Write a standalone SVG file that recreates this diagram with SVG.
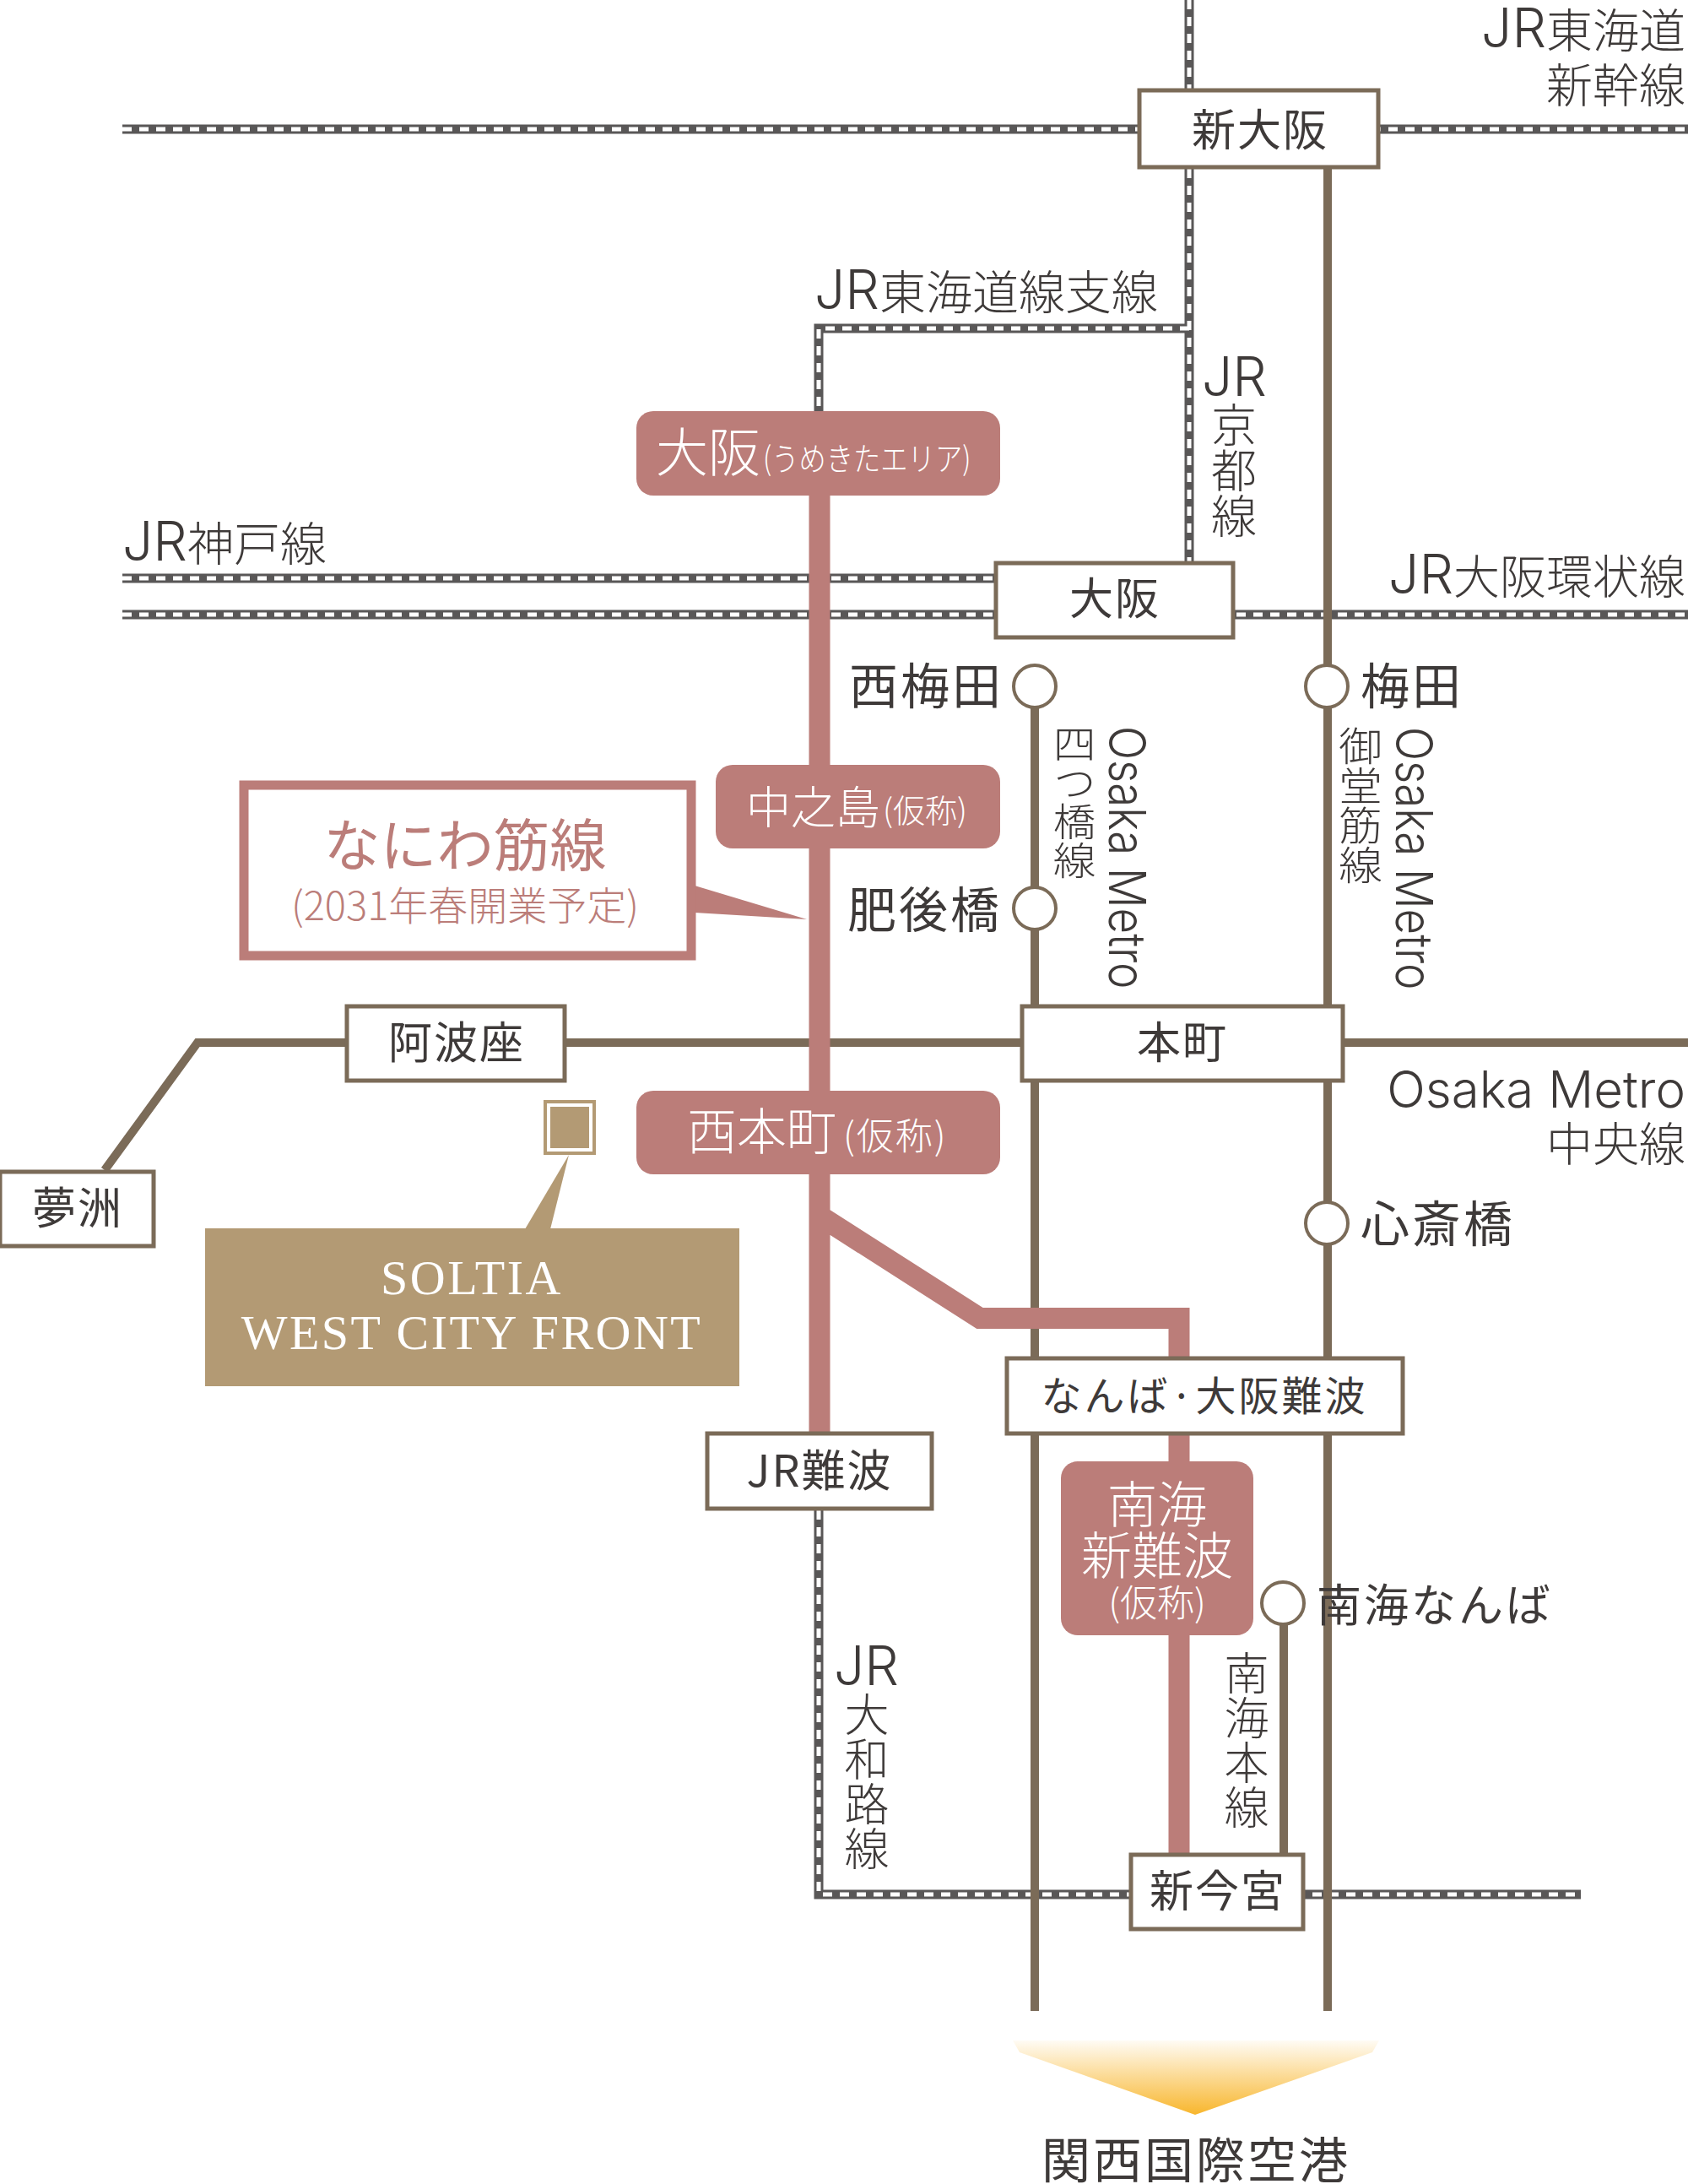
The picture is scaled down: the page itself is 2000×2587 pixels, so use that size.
<svg xmlns="http://www.w3.org/2000/svg" width="2000" height="2587" viewBox="0 0 2000 2587">
<defs>
<linearGradient id="airport" x1="0" y1="0" x2="0" y2="1"><stop offset="0" stop-color="#f8b62d" stop-opacity="0.05"/><stop offset="1" stop-color="#f8b62d"/></linearGradient>
</defs>
<style>
text{font-family:"Noto Sans CJK JP","Noto Sans",sans-serif;fill:#3e3a39}
.l{font-weight:300;font-size:55px}
.jr{font-family:Inter,"Noto Sans",sans-serif;font-size:64px;font-weight:300}
.v{writing-mode:vertical-rl;font-weight:300;font-size:52px}
.om{font-family:Inter,"Noto Sans",sans-serif;font-size:60px;font-weight:300}
.st{font-size:52px;text-anchor:middle;letter-spacing:2px}
.big{font-size:58px;letter-spacing:3px}
.w{fill:#fff;font-weight:300}
.r{text-anchor:end}
.box{fill:#fff;stroke:#7b6b58;stroke-width:5}
.pbox{fill:#bb7d79}
.rail{fill:none;stroke:#595757;stroke-width:11}
.raild{fill:none;stroke:#fff;stroke-width:5;stroke-dasharray:11 9}
.metro{fill:none;stroke:#7b6b58;stroke-width:10}
.pink{fill:none;stroke:#bb7d79;stroke-width:25}
.circ{fill:#fff;stroke:#7b6b58;stroke-width:4}
</style>
<rect width="2000" height="2587" fill="#fff"/>
<g id="connectors">
<path class="rail" d="M145 153H2000M1409 0V665M1409 389H970V490M145 685H1180M145 728H2000M970 1789V2244H1873"/>
<path class="raild" d="M145 153H2000M1409 0V665M1409 389H970V490M145 685H1180M145 728H2000M970 1789V2244H1873"/>
<path class="metro" d="M1573 200V2382M1226 813V2382M124 1386L234 1235H2000M1521 1899V2195"/>
<path class="pink" d="M971 587V1696M971 1440L1161 1561.500H1397V2195"/>
</g>
<g id="n-shinosaka"><rect class="box" x="1350" y="107" width="283" height="91"/><text class="st" x="1493" y="173">新大阪</text></g>
<g id="n-osaka"><rect class="box" x="1180" y="667" width="281" height="88"/><text class="st" x="1321" y="728">大阪</text></g>
<g id="n-awaza"><rect class="box" x="411" y="1192" width="258" height="88"/><text class="st" x="541" y="1254">阿波座</text></g>
<g id="n-hommachi"><rect class="box" x="1211" y="1192" width="380" height="88"/><text class="st" x="1401" y="1254">本町</text></g>
<g id="n-yumeshima"><rect class="box" x="0" y="1388" width="182" height="88"/><text class="st" x="92" y="1450">夢洲</text></g>
<g id="n-namba"><rect class="box" x="1193" y="1609" width="469" height="89"/><text class="st" style="font-size:48px;letter-spacing:3px" x="1427" y="1671">なんば·大阪難波</text></g>
<g id="n-jrnamba"><rect class="box" x="838" y="1698" width="266" height="89"/><text class="st" x="971" y="1761">JR難波</text></g>
<g id="n-shinimamiya"><rect class="box" x="1340" y="2197" width="204" height="88"/><text class="st" x="1443" y="2259">新今宮</text></g>
<g id="n-p-osaka"><rect class="pbox" x="754" y="487" width="431" height="100" rx="20"/><text class="w" style="font-size:62px" x="777" y="559">大阪</text><text class="w" style="font-size:38px" transform="translate(904 557) scale(.85 1)">(うめきたエリア)</text></g>
<g id="n-p-nakanoshima"><rect class="pbox" x="848" y="906" width="337" height="99" rx="20"/><text class="w" style="font-size:53px" x="884" y="976">中之島</text><text class="w" style="font-size:38px" x="1046" y="974">(仮称)</text></g>
<g id="n-p-nishihommachi"><rect class="pbox" x="754" y="1292" width="431" height="99" rx="20"/><text class="w" style="font-size:59px" x="814" y="1362">西本町</text><text class="w" style="font-size:44px;letter-spacing:2px" x="999" y="1362">(仮称)</text></g>
<g id="n-p-shinnamba"><rect class="pbox" x="1257" y="1731" width="228" height="206" rx="20"/><text class="w" style="font-size:59px;text-anchor:middle" x="1371" y="1804">南海</text><text class="w" style="font-size:60px;text-anchor:middle" x="1371" y="1865">新難波</text><text class="w" style="font-size:44px;text-anchor:middle" x="1371" y="1915">(仮称)</text></g>
<g id="n-nishiumeda"><circle class="circ" cx="1226" cy="813" r="25"/><text class="big" x="1006" y="834">西梅田</text></g>
<g id="n-higobashi"><circle class="circ" cx="1226" cy="1076" r="25"/><text class="big" x="1004" y="1099">肥後橋</text></g>
<g id="n-umeda"><circle class="circ" cx="1572" cy="813" r="25"/><text class="big" x="1612" y="834">梅田</text></g>
<g id="n-shinsaibashi"><circle class="circ" cx="1572" cy="1449" r="25"/><text class="big" x="1612" y="1471">心斎橋</text></g>
<g id="n-nankai"><circle class="circ" cx="1520" cy="1899" r="25"/><text class="big" style="font-size:53px" x="1560" y="1921">南海なんば</text></g>
<g id="n-callout"><path d="M823 1049L956 1089L823 1081Z" fill="#bb7d79"/><rect x="289" y="930" width="530" height="202" fill="#fff" stroke="#bb7d79" stroke-width="11"/><text style="fill:#bb7d79;font-size:67px;text-anchor:middle" x="551" y="1026">なにわ筋線</text><text style="fill:#bb7d79;font-size:47px;text-anchor:middle;font-weight:300" x="551" y="1090">(2031年春開業予定)</text></g>
<g id="n-soltia"><path d="M674 1368L622 1456H652Z" fill="#b39a74"/><rect x="646" y="1305" width="58" height="61" fill="#fff" stroke="#b39a74" stroke-width="4"/><rect x="652" y="1311" width="46" height="49" fill="#b39a74"/><rect x="243" y="1455" width="633" height="187" fill="#b39a74"/><text style="fill:#fff;font-family:'Liberation Serif',serif;font-size:58px;text-anchor:middle;letter-spacing:2.500px" x="559" y="1533">SOLTIA</text><text style="fill:#fff;font-family:'Liberation Serif',serif;font-size:58px;text-anchor:middle;letter-spacing:2.500px" x="559" y="1598">WEST CITY FRONT</text></g>
<g id="n-airport"><path d="M1200 2417H1634L1626 2431L1416 2505L1208 2431Z" fill="url(#airport)"/><text class="big" style="text-anchor:middle;font-size:58px" x="1417" y="2580">関西国際空港</text></g>
<g id="labels">
<text class="l r" x="1997" y="56"><tspan class="jr">JR</tspan>東海道</text>
<text class="l r" x="1997" y="121">新幹線</text>
<text class="l" x="965" y="366"><tspan class="jr">JR</tspan>東海道線支線</text>
<text class="jr" x="1424" y="469">JR</text>
<text class="v" x="1462" y="476" style="font-size:54px">京都線</text>
<text class="l" x="145" y="664"><tspan class="jr">JR</tspan>神戸線</text>
<text class="l r" x="1997" y="703"><tspan class="jr">JR</tspan>大阪環状線</text>
<text class="v" style="font-size:46px" transform="translate(1273 858) scale(1.1 1)">四つ橋線</text>
<text class="v om" transform="translate(1336 860) scale(1 .88)">Osaka Metro</text>
<text class="v" style="font-size:47px" transform="translate(1612 860) scale(1.1 1)">御堂筋線</text>
<text class="v om" transform="translate(1676 861) scale(1 .88)">Osaka Metro</text>
<text class="om r" x="1997" y="1312">Osaka Metro</text>
<text class="l r" x="1997" y="1375">中央線</text>
<text class="v" x="1477" y="1955" style="font-size:53px">南海本線</text>
<text class="jr" x="988" y="1996">JR</text>
<text class="v" x="1027" y="2004" style="font-size:53px">大和路線</text>
</g>
</svg>
